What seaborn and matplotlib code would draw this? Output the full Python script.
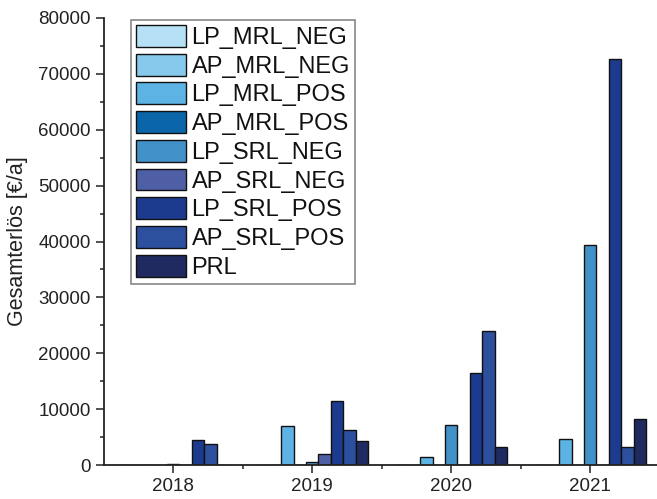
import numpy as np
import pandas as pd
import matplotlib
matplotlib.use("Agg")
import matplotlib.pyplot as plt
import seaborn as sns
from matplotlib.ticker import MultipleLocator

years = ["2018", "2019", "2020", "2021"]
series = ["LP_MRL_NEG", "AP_MRL_NEG", "LP_MRL_POS", "AP_MRL_POS",
          "LP_SRL_NEG", "AP_SRL_NEG", "LP_SRL_POS", "AP_SRL_POS", "PRL"]
LP_MRL_NEG = [0, 0, 0, 0]
AP_MRL_NEG = [0, 0, 0, 0]
LP_MRL_POS = [100, 7000, 1500, 4700]
AP_MRL_POS = [0, 0, 0, 0]
LP_SRL_NEG = [200, 500, 7200, 39300]
AP_SRL_NEG = [0, 1900, 0, 0]
LP_SRL_POS = [4500, 11500, 16500, 72600]
AP_SRL_POS = [3700, 6300, 24000, 3300]
PRL = [0, 4300, 3200, 8300]
colors = ["#b6e0f6", "#87c9ec", "#5db4e4", "#0a66a8", "#4292c9",
          "#4f5fa6", "#1c3a8e", "#2c4f9e", "#1f2a60"]

values = [LP_MRL_NEG, AP_MRL_NEG, LP_MRL_POS, AP_MRL_POS, LP_SRL_NEG,
          AP_SRL_NEG, LP_SRL_POS, AP_SRL_POS, PRL]
rows = []
for s, vals in zip(series, values):
    for y, v in zip(years, vals):
        rows.append({"Jahr": y, "Serie": s, "Wert": v})
df = pd.DataFrame(rows)

sns.set_theme(style="ticks")
plt.rcParams['font.family'] = ['Liberation Sans', 'DejaVu Sans']

fig = plt.figure(figsize=(6.57, 4.99), dpi=100)
ax = fig.add_axes([0.158, 0.068, 0.842, 0.896])

sns.barplot(data=df, x="Jahr", y="Wert", hue="Serie", order=years,
            hue_order=series, palette=colors, width=0.8, gap=0,
            edgecolor="#111111", linewidth=1.0, saturation=1, ax=ax,
            errorbar=None)

ax.set_xlim(-0.5, 3.48)
ax.set_ylim(0, 80000)
ax.yaxis.set_major_locator(MultipleLocator(10000))
ax.yaxis.set_minor_locator(MultipleLocator(5000))
ax.set_xticks([0.5, 1.5, 2.5], minor=True)
ax.tick_params(axis="both", which="major", direction="out", length=6,
               width=1.1, labelsize=13.5, color="#222222", labelcolor="#222222")
ax.tick_params(axis="both", which="minor", direction="out", length=3,
               width=1.1, color="#222222")
ax.set_xlabel("")
ax.set_ylabel("Gesamterlös [€/a]", fontsize=15.5, color="#222222", labelpad=7)
sns.despine(ax=ax)
for sp in ["left", "bottom"]:
    ax.spines[sp].set_linewidth(1.3)
    ax.spines[sp].set_color("#222222")

leg = ax.legend(loc="upper left", bbox_to_anchor=(0.049, 0.996),
                fontsize=17, frameon=True, fancybox=False, framealpha=1,
                edgecolor="#888888", handlelength=2.1, handleheight=1.05,
                labelspacing=0.2, handletextpad=0.25, borderpad=0.22,
                borderaxespad=0)
leg.get_frame().set_linewidth(1.2)
for t in leg.get_texts():
    t.set_color("#111111")

fig.savefig("out.png", dpi=100)
